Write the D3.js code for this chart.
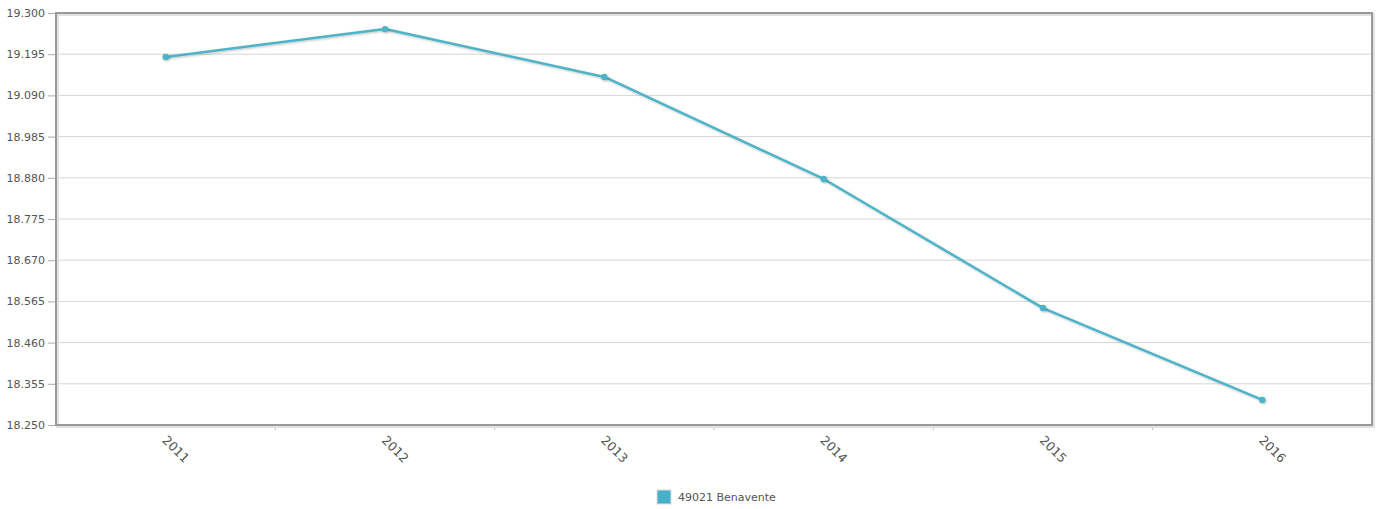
<!DOCTYPE html>
<html>
<head>
<meta charset="utf-8">
<script src="https://cdn.jsdelivr.net/npm/d3@7"></script>
<style>
  html, body { margin: 0; padding: 0; background: #fff; }
  svg { display: block; }
  text { font-family: "DejaVu Sans", Verdana, sans-serif; }
</style>
</head>
<body>
<svg id="chart" width="1379" height="509"></svg>
<script>
// Population of Benavente (municipality code 49021), yearly
const years = ["2011", "2012", "2013", "2014", "2015", "2016"];
const population = [19188, 19259, 19137, 18877, 18548, 18314];
const seriesName = "49021 Benavente";
const yTicks = [18250, 18355, 18460, 18565, 18670, 18775, 18880, 18985, 19090, 19195, 19300];

const W = 1379, H = 509;
const plot = { left: 56, right: 1372, top: 13, bottom: 425 };
const lineColor = "#4db3c6";

const svg = d3.select("#chart");

const x = d3.scaleBand().domain(years).range([plot.left, plot.right]);
const y = d3.scaleLinear().domain([yTicks[0], yTicks[yTicks.length - 1]]).range([plot.bottom, plot.top]);

const fmt = v => d3.format(",.3f")(v / 1000).replace(/,/g, "");

const defs = svg.append("defs");
const shadow = defs.append("filter").attr("id", "shadow").attr("x", "-50%").attr("y", "-50%").attr("width", "200%").attr("height", "200%");
shadow.append("feDropShadow").attr("dx", 1).attr("dy", 1).attr("stdDeviation", 0.8).attr("flood-color", "#000").attr("flood-opacity", 0.25);

// Horizontal grid
svg.append("g")
  .selectAll("line")
  .data(yTicks)
  .join("line")
  .attr("x1", plot.left).attr("x2", plot.right)
  .attr("y1", d => y(d)).attr("y2", d => y(d))
  .attr("stroke", "#d6d6d6").attr("stroke-width", 1);

// Y axis labels and ticks
const yAxis = d3.axisLeft(y).tickValues(yTicks).tickFormat(fmt).tickSize(8).tickPadding(3);
const gy = svg.append("g").attr("transform", `translate(${plot.left},0)`).call(yAxis);
gy.select(".domain").remove();
gy.selectAll(".tick line").attr("stroke", "#aaa");
gy.selectAll(".tick text").attr("fill", "#555").attr("font-size", 11);

// X axis ticks at band edges
const edges = years.map(d => x(d)).concat([plot.right]);
svg.append("g")
  .selectAll("line")
  .data(edges.slice(1, -1))
  .join("line")
  .attr("x1", d => d).attr("x2", d => d)
  .attr("y1", plot.bottom).attr("y2", plot.bottom + 5)
  .attr("stroke", "#bbb").attr("stroke-width", 1);

// Year labels, rotated
svg.append("g")
  .selectAll("text")
  .data(years)
  .join("text")
  .attr("transform", d => `translate(${x(d) + x.bandwidth() / 2 - 1},${plot.bottom + 13}) rotate(45)`)
  .attr("fill", "#555")
  .attr("font-size", 12.5)
  .attr("dy", "0.35em")
  .text(d => d);

// Plot frame with soft shadow
svg.append("rect")
  .attr("x", plot.left + 1.5).attr("y", plot.top + 1.5)
  .attr("width", plot.right - plot.left).attr("height", plot.bottom - plot.top)
  .attr("fill", "none").attr("stroke", "#e2e2e2").attr("stroke-width", 3);
svg.append("rect")
  .attr("x", plot.left).attr("y", plot.top)
  .attr("width", plot.right - plot.left).attr("height", plot.bottom - plot.top)
  .attr("fill", "none").attr("stroke", "#999").attr("stroke-width", 2);

// Series line
const pts = years.map((d, i) => ({ year: d, value: population[i] }));
const line = d3.line().x(d => x(d.year) + x.bandwidth() / 2).y(d => y(d.value));

svg.append("path")
  .datum(pts)
  .attr("d", line)
  .attr("fill", "none")
  .attr("stroke", lineColor)
  .attr("stroke-width", 2.5)
  .attr("stroke-linejoin", "round")
  .attr("filter", "url(#shadow)");

svg.append("g")
  .selectAll("circle")
  .data(pts)
  .join("circle")
  .attr("cx", d => x(d.year) + x.bandwidth() / 2)
  .attr("cy", d => y(d.value))
  .attr("r", 3.2)
  .attr("fill", lineColor)
  .attr("filter", "url(#shadow)");

// Legend
const lg = svg.append("g").attr("transform", "translate(657,490)");
lg.append("rect")
  .attr("x", 0).attr("y", 0).attr("width", 14).attr("height", 14)
  .attr("fill", "#46b0c8").attr("stroke", "#dcdcdc").attr("stroke-width", 1);
lg.append("text")
  .attr("x", 21).attr("y", 7).attr("dy", "0.35em")
  .attr("fill", "#555").attr("font-size", 11)
  .text(seriesName);
</script>
</body>
</html>
